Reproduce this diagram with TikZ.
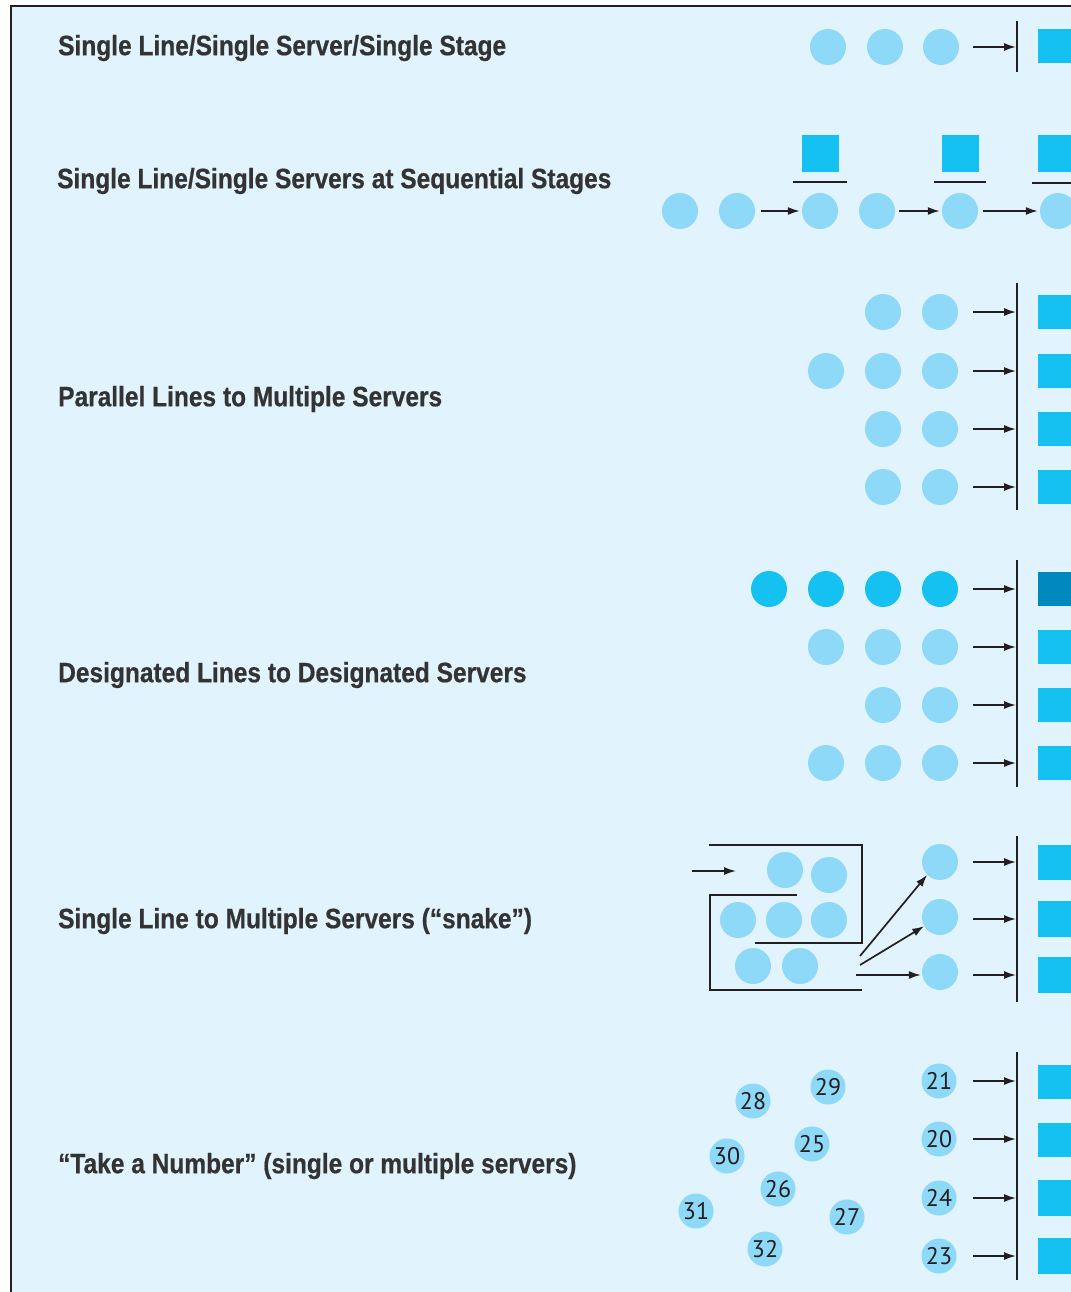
\documentclass[tikz,border=0pt]{standalone}
\usepackage{fontspec}
\setmainfont{Liberation Sans}[FakeStretch=0.875, BoldFeatures={FakeBold=0.6}]
\newfontfamily\numfont{PT Sans}
\usetikzlibrary{arrows.meta}
\definecolor{bgc}{HTML}{E1F3FD}
\definecolor{custc}{HTML}{8ED8F8}
\definecolor{darkc}{HTML}{15C1F1}
\definecolor{servc}{HTML}{15C1F1}
\definecolor{darks}{HTML}{0089BF}
\definecolor{linec}{HTML}{231F20}
\definecolor{textc}{HTML}{333333}
\tikzset{
  cust/.style={circle, fill=custc, minimum size=36pt, inner sep=0pt},
  dcust/.style={circle, fill=darkc, minimum size=36pt, inner sep=0pt},
  ncust/.style={circle, fill=custc, minimum size=35pt, inner sep=0pt, font=\numfont\fontsize{24}{24}\selectfont, text=linec},
  serv/.style={fill=servc, minimum width=36pt, minimum height=34pt, inner sep=0pt, anchor=west},
  sserv/.style={fill=servc, minimum width=37pt, minimum height=37pt, inner sep=0pt},
  arr/.style={draw=linec, line width=1.7pt, -{Latex[length=12pt,width=8pt]}},
  barline/.style={draw=linec, line width=1.8pt},
  snakeline/.style={draw=linec, line width=1.6pt},
  lbl/.style={anchor=west, inner sep=0pt, text=textc, font=\bfseries\fontsize{28}{28}\selectfont}
}
\begin{document}
\begin{tikzpicture}[x=1pt,y=-1pt]
\useasboundingbox (0,0) rectangle (1070,1292);
\fill[white] (0,0) rectangle (1070,1292);
\fill[bgc] (11,6) rectangle (1075,1300);
\draw[draw=linec, line width=2pt] (11,1300) -- (11,6) -- (1075,6);

% ---------- Row 1
\node[lbl] (l1) at (58,48) {Single Line/Single Server/Single Stage};
\node[cust] (r1a) at (828,47) {};
\node[cust] (r1b) at (885,47) {};
\node[cust] (r1c) at (941,47) {};
\coordinate (b1t) at (1017,21);
\coordinate (b1b) at (1017,72);
\draw[barline] (b1t) -- (b1b);
\coordinate (a1s) at (973,47);
\coordinate (a1e) at (1016,47);
\draw[arr] (a1s) -- (a1e);
\node[serv] (s1) at (1038,46) {};

% ---------- Row 2
\node[lbl] (l2) at (57,181) {Single Line/Single Servers at Sequential Stages};
\node[cust] (r2a) at (680,211) {};
\node[cust] (r2b) at (737,211) {};
\node[cust] (r2c) at (820,211) {};
\node[cust] (r2d) at (877,211) {};
\node[cust] (r2e) at (960,211) {};
\node[cust] (r2f) at (1058,211) {};
\draw[arr] ([xshift=6pt]r2b.east) -- ([xshift=-2pt]r2c.west);
\draw[arr] ([xshift=4pt]r2d.east) -- ([xshift=-2pt]r2e.west);
\draw[arr] ([xshift=5pt]r2e.east) -- ([xshift=-2pt]r2f.west);
\node[sserv] (s2a) at (820.5,153.5) {};
\node[sserv] (s2b) at (960,153.5) {};
\node[sserv, anchor=west] (s2c) at (1038,153.5) {};
\coordinate (u2al) at (793,182); \coordinate (u2ar) at (847,182);
\coordinate (u2bl) at (934,182); \coordinate (u2br) at (986,182);
\coordinate (u2cl) at (1032,183); \coordinate (u2cr) at (1075,183);
\draw[barline] (u2al) -- (u2ar);
\draw[barline] (u2bl) -- (u2br);
\draw[barline] (u2cl) -- (u2cr);

% ---------- Row 3
\node[lbl] (l3) at (58,399) {Parallel Lines to Multiple Servers};
\coordinate (b3t) at (1017,283);
\coordinate (b3b) at (1017,510);
\draw[barline] (b3t) -- (b3b);
\foreach \i/\y in {1/312,2/371,3/429,4/487}{
  \node[cust] (p\i b) at (883,\y) {};
  \node[cust] (p\i c) at (940,\y) {};
  \coordinate (pa\i s) at (973,\y);
  \coordinate (pa\i e) at (1016,\y);
  \draw[arr] (pa\i s) -- (pa\i e);
  \node[serv] (ps\i) at (1038,\y) {};
}
\node[cust] (p2a) at (826,371) {};

% ---------- Row 4
\node[lbl] (l4) at (58,675) {Designated Lines to Designated Servers};
\coordinate (b4t) at (1017,560);
\coordinate (b4b) at (1017,787);
\draw[barline] (b4t) -- (b4b);
\node[dcust] (d1a) at (769,589) {};
\node[dcust] (d1b) at (826,589) {};
\node[dcust] (d1c) at (883,589) {};
\node[dcust] (d1d) at (940,589) {};
\node[cust] (d2b) at (826,647) {};
\node[cust] (d2c) at (883,647) {};
\node[cust] (d2d) at (940,647) {};
\node[cust] (d3c) at (883,705) {};
\node[cust] (d3d) at (940,705) {};
\node[cust] (d4b) at (826,763) {};
\node[cust] (d4c) at (883,763) {};
\node[cust] (d4d) at (940,763) {};
\foreach \i/\y in {1/589,2/647,3/705,4/763}{
  \coordinate (da\i s) at (973,\y);
  \coordinate (da\i e) at (1016,\y);
  \draw[arr] (da\i s) -- (da\i e);
}
\node[serv, fill=darks] (ds1) at (1038,589) {};
\node[serv] (ds2) at (1038,647) {};
\node[serv] (ds3) at (1038,705) {};
\node[serv] (ds4) at (1038,763) {};

% ---------- Row 5 (snake)
\node[lbl] (l5) at (58,921) {Single Line to Multiple Servers (“snake”)};
\coordinate (w1a) at (709,845); \coordinate (w1b) at (862,845);
\coordinate (w1c) at (862,943); \coordinate (w1d) at (755,943);
\draw[snakeline] (w1a) -- (w1b) -- (w1c) -- (w1d);
\coordinate (w2a) at (797,895); \coordinate (w2b) at (710,895);
\coordinate (w2c) at (710,990); \coordinate (w2d) at (862,990);
\draw[snakeline] (w2a) -- (w2b) -- (w2c) -- (w2d);
\coordinate (ein) at (692,871); \coordinate (eout) at (736,871);
\draw[arr] (ein) -- (eout);
\node[cust] (k1a) at (785,870) {};
\node[cust] (k1b) at (829,875) {};
\node[cust] (k2a) at (738,920) {};
\node[cust] (k2b) at (784,920) {};
\node[cust] (k2c) at (829,920) {};
\node[cust] (k3a) at (753,966) {};
\node[cust] (k3b) at (800,966) {};
\node[cust] (m1) at (940,862) {};
\node[cust] (m2) at (940,917) {};
\node[cust] (m3) at (940,972) {};
\coordinate (x1) at (860,956);
\coordinate (x2) at (860,965);
\coordinate (x3) at (856,975);
\draw[arr] (x1) -- (m1.225);
\draw[arr] (x2) -- (m2.210);
\draw[arr] (x3) -- ([xshift=-1pt]m3.west|-x3);
\coordinate (b5t) at (1017,836);
\coordinate (b5b) at (1017,1002);
\draw[barline] (b5t) -- (b5b);
\foreach \i/\y in {1/862,2/919,3/975}{
  \coordinate (ka\i s) at (973,\y);
  \coordinate (ka\i e) at (1016,\y);
  \draw[arr] (ka\i s) -- (ka\i e);
}
\node[serv, minimum height=35pt] (ks1) at (1038,862) {};
\node[serv, minimum height=36pt] (ks2) at (1038,919) {};
\node[serv, minimum height=36pt] (ks3) at (1038,975) {};

% ---------- Row 6 (take a number)
\node[lbl] (l6) at (58,1166) {“Take a Number” (single or multiple servers)};
\node[ncust] (n21) at (939,1081) {21};
\node[ncust] (n20) at (939,1139) {20};
\node[ncust] (n24) at (939,1198) {24};
\node[ncust] (n23) at (939,1256) {23};
\node[ncust] (n29) at (828,1087) {29};
\node[ncust] (n28) at (753,1101) {28};
\node[ncust] (n30) at (727,1156) {30};
\node[ncust] (n25) at (812,1144) {25};
\node[ncust] (n26) at (778,1189) {26};
\node[ncust] (n31) at (696,1211) {31};
\node[ncust] (n27) at (847,1217) {27};
\node[ncust] (n32) at (765,1249) {32};
\coordinate (b6t) at (1017,1052);
\coordinate (b6b) at (1017,1280);
\draw[barline] (b6t) -- (b6b);
\foreach \i/\y in {1/1081,2/1139,3/1198,4/1256}{
  \coordinate (ta\i s) at (973,\y);
  \coordinate (ta\i e) at (1016,\y);
  \draw[arr] (ta\i s) -- (ta\i e);
}
\node[serv] (ts1) at (1038,1082) {};
\node[serv] (ts2) at (1038,1140) {};
\node[serv, minimum height=36pt] (ts3) at (1038,1198) {};
\node[serv, minimum height=36pt] (ts4) at (1038,1256) {};
\end{tikzpicture}
\end{document}
